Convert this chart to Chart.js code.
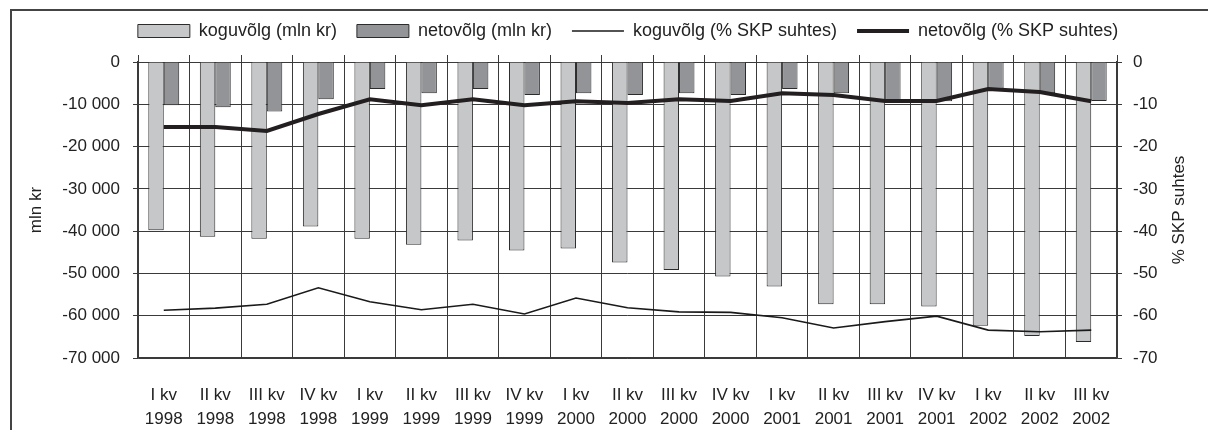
<!DOCTYPE html>
<html>
<head>
<meta charset="utf-8">
<script src="https://cdn.jsdelivr.net/npm/chart.js@4.4.1/dist/chart.umd.min.js"></script>
<style>
    html, body { margin: 0; padding: 0; background: #fff; overflow: hidden; }
    #frame { position: absolute; left: 10px; top: 9px; width: 1240px; height: 460px;
             border-top: 2px solid #444; border-left: 2px solid #444; }
    #wrap { position: absolute; left: 0; top: 0; width: 1208px; height: 430px; }
</style>
</head>
<body>
<div id="frame"></div>
<div id="wrap"><canvas id="debtChart"></canvas></div>
<script>
// quarters + years (two-line x labels)
const quarters = ['I kv', 'II kv', 'III kv', 'IV kv', 'I kv', 'II kv', 'III kv', 'IV kv', 'I kv', 'II kv',
    'III kv', 'IV kv', 'I kv', 'II kv', 'III kv', 'IV kv', 'I kv', 'II kv', 'III kv'];
const years = ['1998', '1998', '1998', '1998', '1999', '1999', '1999', '1999', '2000', '2000',
    '2000', '2000', '2001', '2001', '2001', '2001', '2002', '2002', '2002'];

// mln kr (left axis)
const grossDebt = [-39800, -41300, -41800, -38900, -41800, -43200, -42200, -44600, -44100, -47400,
    -49200, -50700, -53100, -57300, -57300, -57800, -62400, -64800, -66200];
const netDebt = [-10200, -10700, -11700, -8800, -6400, -7400, -6400, -7800, -7400, -7800,
    -7400, -7800, -6400, -7400, -9300, -9300, -6300, -7400, -9200];

// % SKP suhtes (right axis)
const grossDebtPct = [-58.7, -58.2, -57.3, -53.4, -56.7, -58.6, -57.3, -59.6, -55.8, -58.1,
    -59.1, -59.2, -60.5, -62.9, -61.4, -60.1, -63.4, -63.8, -63.4];
const netDebtPct = [-15.4, -15.4, -16.3, -12.3, -8.8, -10.2, -8.8, -10.2, -9.3, -9.7,
    -8.8, -9.2, -7.4, -7.8, -9.2, -9.2, -6.4, -7.1, -9.3];

const labels = quarters.map((q, i) => [q, years[i]]);

const FONT = { family: "'Liberation Sans', Arial, sans-serif", size: 17 };
const INK = '#222';
const GRID = '#3a3a3a';

// axis titles drawn by hand: the right one reads bottom-to-top like the left one
const axisTitles = {
    id: 'axisTitles',
    afterDraw(chart) {
        const ctx = chart.ctx;
        const mid = (chart.chartArea.top + chart.chartArea.bottom) / 2;
        const put = (text, x) => {
            ctx.save();
            ctx.translate(x, mid);
            ctx.rotate(-Math.PI / 2);
            ctx.font = FONT.size + 'px ' + FONT.family;
            ctx.fillStyle = INK;
            ctx.textAlign = 'center';
            ctx.textBaseline = 'middle';
            ctx.fillText(text, 0, 0);
            ctx.restore();
        };
        put('mln kr', chart.scales.y.left - 12);
        put('% SKP suhtes', chart.scales.yPct.right - 29);
    }
};

new Chart(document.getElementById('debtChart'), {
    type: 'bar',
    data: {
        labels: labels,
        datasets: [
            {
                label: 'koguvõlg (mln kr)',
                data: grossDebt,
                backgroundColor: '#c6c7c9',
                borderColor: '#2b2b2b',
                borderWidth: 1,
                yAxisID: 'y',
                order: 1,
                pointStyle: 'rect'
            },
            {
                label: 'netovõlg (mln kr)',
                data: netDebt,
                backgroundColor: '#939497',
                borderColor: '#2b2b2b',
                borderWidth: 1,
                yAxisID: 'y',
                order: 1,
                pointStyle: 'rect'
            },
            {
                type: 'line',
                label: 'koguvõlg (% SKP suhtes)',
                data: grossDebtPct,
                borderColor: '#1a1a1a',
                backgroundColor: '#1a1a1a',
                borderWidth: 1.6,
                pointRadius: 0,
                tension: 0,
                yAxisID: 'yPct',
                order: 0,
                pointStyle: 'line'
            },
            {
                type: 'line',
                label: 'netovõlg (% SKP suhtes)',
                data: netDebtPct,
                borderColor: '#231f20',
                backgroundColor: '#231f20',
                borderWidth: 4,
                pointRadius: 0,
                tension: 0,
                yAxisID: 'yPct',
                order: 0,
                pointStyle: 'line'
            }
        ]
    },
    options: {
        responsive: true,
        maintainAspectRatio: false,
        animation: false,
        layout: { padding: { top: 2, left: 48, right: 0, bottom: 0 } },
        datasets: {
            bar: { categoryPercentage: 0.6, barPercentage: 1.0, borderSkipped: 'start' }
        },
        plugins: {
            tooltip: { enabled: false },
            legend: {
                position: 'top',
                labels: {
                    font: { ...FONT, size: 18 },
                    color: INK,
                    usePointStyle: true,
                    pointStyleWidth: 52,
                    boxHeight: 13,
                    padding: 20,
                    sort: (a, b) => a.datasetIndex - b.datasetIndex
                }
            }
        },
        scales: {
            xTop: {
                type: 'category',
                position: 'top',
                labels: labels,
                offset: true,
                grid: { display: true, drawOnChartArea: false, offset: true, tickLength: 7, color: GRID },
                border: { display: false },
                ticks: { display: false },
                afterFit: (s) => { s.height = 12; }
            },
            x: {
                position: 'bottom',
                offset: true,
                grid: { display: true, drawTicks: false, offset: true, color: GRID, lineWidth: 1 },
                border: { color: GRID, width: 1.5 },
                ticks: { font: { ...FONT, lineHeight: 1.38 }, color: INK, padding: 26, maxRotation: 0, autoSkip: false },
                afterFit: (s) => { s.height = 72; }
            },
            y: {
                position: 'left',
                min: -70000,
                max: 0,
                grid: { color: GRID, tickLength: 5, lineWidth: 1 },
                border: { color: GRID, width: 1.5 },
                ticks: {
                    stepSize: 10000,
                    font: FONT,
                    color: INK,
                    padding: 13,
                    callback: (v) => (v < 0 ? '-' : '') + String(Math.abs(v)).replace(/\B(?=(\d{3})+(?!\d))/g, ' ')
                },
                afterFit: (s) => { s.width = 90; }
            },
            yPct: {
                position: 'right',
                min: -70,
                max: 0,
                grid: { drawOnChartArea: false, color: GRID, tickLength: 5 },
                border: { color: GRID, width: 1.5 },
                ticks: { stepSize: 10, font: FONT, color: INK, padding: 11 },
                afterFit: (s) => { s.width = 91; }
            }
        }
    },
    plugins: [axisTitles]
});
</script>
</body>
</html>
